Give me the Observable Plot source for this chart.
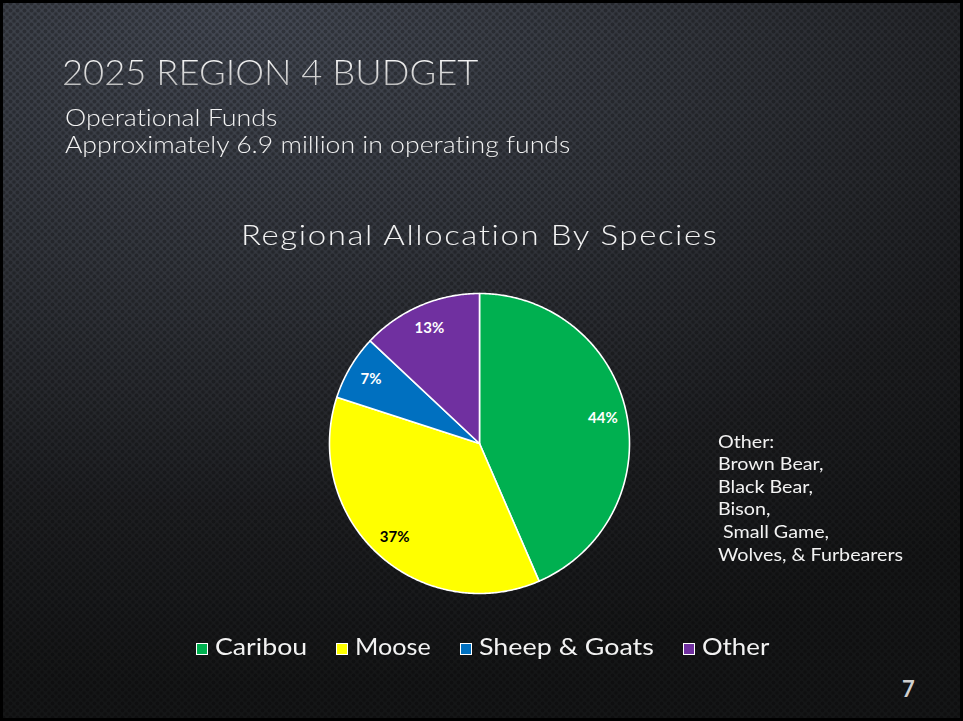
<!DOCTYPE html>
<html>
<head>
<meta charset="utf-8">
<script src="https://cdn.jsdelivr.net/npm/d3@7"></script>
<script src="https://cdn.jsdelivr.net/npm/@observablehq/plot@0.6"></script>
<style>
  html, body { margin: 0; padding: 0; background: #000; }
  .slide {
    position: relative; width: 963px; height: 721px; overflow: hidden;
    font-family: "Lato", "DejaVu Sans", sans-serif; color: #f2f2f2;
    font-variant-ligatures: none; font-feature-settings: "liga" 0, "clig" 0;
    background:
      radial-gradient(circle at 3.5px 3.5px, rgba(0,0,0,0.30) 1.6px, rgba(0,0,0,0) 2.4px) 0 0 / 7px 7px,
      radial-gradient(circle at 3.5px 3.5px, rgba(0,0,0,0.30) 1.6px, rgba(0,0,0,0) 2.4px) 3.5px 3.5px / 7px 7px,
      radial-gradient(ellipse 120% 95% at 25% 0%, #474c57 0%, #33363d 40%, #1e1f22 75%, #151617 100%);
  }
  .frame { position: absolute; left: 0; top: 0; width: 963px; height: 721px; box-sizing: border-box; border: 3px solid #000; pointer-events: none; }
  .abs { position: absolute; white-space: nowrap; }
  .line { display: block; white-space: nowrap; }
  .fit { display: inline-block; transform-origin: 0 50%; }
  #title { left: 62px; top: 54px; font-size: 35px; line-height: 35px; font-weight: 300; }
  #title .fit { background: linear-gradient(#ffffff, #b5b5b5); -webkit-background-clip: text; background-clip: text; color: transparent; }
  #sub { left: 65px; top: 103.6px; font-size: 23px; line-height: 27px; font-weight: 300; }
  #ctitle { left: 241px; top: 220px; font-size: 28px; line-height: 28px; font-weight: 300; }
  #note { left: 718px; top: 429.7px; font-size: 18px; line-height: 22.6px; font-weight: 400; }
  #legend { left: 196px; top: 635px; font-size: 23.5px; line-height: 23.5px; font-weight: 400; }
  .item { display: inline-block; margin-right: 29px; }
  .sw { display: inline-block; width: 10px; height: 10px; border: 1.5px solid #fff; margin-right: 7px; vertical-align: baseline; }
  #page { left: 902px; top: 677.5px; font-size: 22px; line-height: 22px; font-weight: 700; color: #cfcfcf; }
  #pie { left: 327px; top: 291px; }
</style>
</head>
<body>
<div class="slide" id="slide">
  <div class="abs" id="title"><span class="fit" data-w="416">2025 REGION 4 BUDGET</span></div>
  <div class="abs" id="sub">
    <span class="line"><span class="fit" data-w="212">Operational Funds</span></span>
    <span class="line"><span class="fit" data-w="505">Approximately 6.9 million in operating funds</span></span>
  </div>
  <div class="abs" id="ctitle"><span class="fit" data-w="476">Regional Allocation By Species</span></div>
  <div class="abs" id="pie"></div>
  <div class="abs" id="note"></div>
  <div class="abs" id="legend"></div>
  <div class="abs" id="page">7</div>
  <div class="frame"></div>
</div>
<script>
const categories = ["Caribou", "Moose", "Sheep & Goats", "Other"];
const values = [43.5, 36.5, 7, 13];
const labels = ["44%", "37%", "7%", "13%"];
const colors = ["#00b050", "#ffff00", "#0070c0", "#7030a0"];
const labelColors = ["#ffffff", "#000000", "#ffffff", "#ffffff"];
const noteLines = ["Other:", "Brown Bear,", "Black Bear,", "Bison,", "\u00a0Small Game,", "Wolves, & Furbearers"];
const legendTextWidths = [92, 76, 175, 67];

// slice polygons derived from the values
const arcs = d3.pie().sort(null)(values);
const pts = [];
const labelData = [];
arcs.forEach((a, i) => {
  const name = categories[i];
  pts.push({name, x: 0, y: 0});
  const n = Math.max(4, Math.ceil((a.endAngle - a.startAngle) / 0.01));
  for (let k = 0; k <= n; k++) {
    const t = a.startAngle + (a.endAngle - a.startAngle) * k / n;
    pts.push({name, x: Math.sin(t), y: Math.cos(t)});
  }
  pts.push({name, x: 0, y: 0});
  const m = (a.startAngle + a.endAngle) / 2;
  labelData.push({name, label: labels[i], x: 0.84 * Math.sin(m), y: 0.84 * Math.cos(m), c: labelColors[i]});
});

const chart = Plot.plot({
  width: 304, height: 304, margin: 2,
  x: {domain: [-1, 1], axis: null},
  y: {domain: [-1, 1], axis: null},
  color: {domain: categories, range: colors},
  style: {background: "transparent", overflow: "visible"},
  marks: [
    Plot.line(pts, {x: "x", y: "y", z: "name", fill: "name", stroke: "#ffffff", strokeWidth: 1.6, strokeLinejoin: "round"}),
    Plot.text(labelData, {x: "x", y: "y", text: "label", fill: "c", fontWeight: "bold", fontSize: 15, fontFamily: "Lato, 'DejaVu Sans', sans-serif"})
  ]
});
document.getElementById("pie").appendChild(chart);

const note = document.getElementById("note");
noteLines.forEach((s, i) => {
  const d = document.createElement("span");
  d.className = "line";
  const f = document.createElement("span");
  f.className = "fit";
  f.textContent = s;
  d.appendChild(f);
  note.appendChild(d);
});

const legend = document.getElementById("legend");
categories.forEach((c, i) => {
  const it = document.createElement("span");
  it.className = "item";
  const sw = document.createElement("span");
  sw.className = "sw";
  sw.style.background = colors[i];
  const t = document.createElement("span");
  t.className = "fit";
  t.dataset.w = legendTextWidths[i];
  t.textContent = c;
  it.appendChild(sw); it.appendChild(t);
  legend.appendChild(it);
});

const MAXS = 1.18;
function fitEl(el, target, s) {
  el.style.transform = "none";
  el.style.letterSpacing = "0px";
  el.style.marginRight = "0px";
  const w = el.offsetWidth;
  const n = el.textContent.length;
  if (s === undefined) s = Math.min(MAXS, target / w);
  const ls = (target / s - w) / Math.max(1, n - 1);
  el.style.letterSpacing = ls + "px";
  el.style.transform = `scaleX(${s})`;
  el.style.marginRight = (target - el.offsetWidth) + "px";
  return {s, ls};
}
function fitAll() {
  document.querySelectorAll(".fit[data-w]").forEach(el => fitEl(el, +el.dataset.w));
  // note block: fit longest line to 185px, reuse its scale and spacing on all lines
  const lines = [...note.querySelectorAll(".fit")];
  const last = lines[lines.length - 1];
  const {s, ls} = fitEl(last, 185);
  lines.forEach(el => { el.style.letterSpacing = ls + "px"; el.style.transform = `scaleX(${s})`; });
}
fitAll();
if (document.fonts && document.fonts.ready) document.fonts.ready.then(fitAll);
</script>
</body>
</html>
